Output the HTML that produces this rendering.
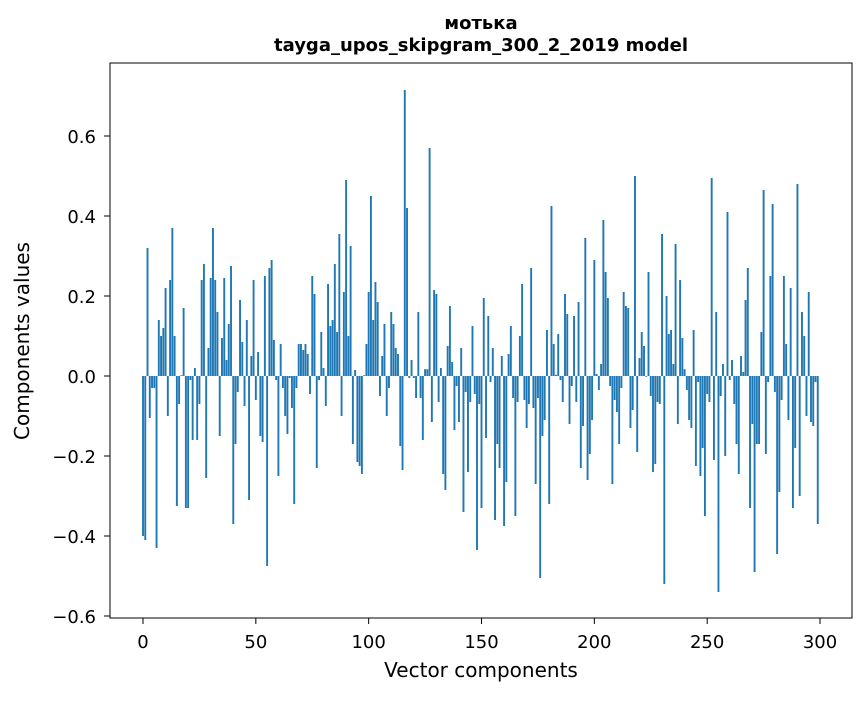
<!DOCTYPE html>
<html><head><meta charset="utf-8"><style>
body{margin:0;background:#fff;}
svg{font-family:"DejaVu Sans","Liberation Sans",sans-serif;}
</style></head><body>
<svg id="chart" width="867" height="696">
<rect width="867" height="696" fill="#fff"/>
<text x="481" y="29" text-anchor="middle" font-size="18" font-weight="bold">мотька</text>
<text x="481" y="51" text-anchor="middle" font-size="18" font-weight="bold">tayga_upos_skipgram_300_2_2019 model</text>
<g id="bars"></g>
<g id="xticks"></g>
<g id="yticks"></g>
<rect x="110" y="63" width="742" height="555" fill="none" stroke="#000" stroke-width="1"/>
<text x="481" y="677" text-anchor="middle" font-size="20">Vector components</text>
<text transform="translate(29,341) rotate(-90)" text-anchor="middle" font-size="20">Components values</text>
</svg>
<script>
const values = [
-0.40,-0.41,0.32,-0.105,-0.03,-0.03,-0.43,0.14,0.10,0.12,0.22,-0.10,0.24,0.37,0.10,-0.325,-0.07,0.002,0.17,-0.33,
-0.33,-0.01,-0.16,0.02,-0.16,-0.07,0.24,0.28,-0.255,0.07,0.245,0.37,0.24,0.16,-0.15,0.095,0.245,0.04,0.13,0.275,
-0.37,-0.17,-0.04,0.19,0.085,-0.075,0.14,-0.31,0.05,0.24,-0.06,0.06,-0.15,-0.165,0.25,-0.475,0.27,0.29,0.09,-0.01,
-0.25,0.08,-0.03,-0.10,-0.145,-0.005,-0.08,-0.32,-0.03,0.08,0.08,0.065,0.08,0.055,-0.045,0.25,0.205,-0.23,-0.01,0.11,
0.02,-0.075,0.23,0.125,0.14,0.28,0.11,0.355,-0.10,0.21,0.49,0.10,0.325,-0.17,0.015,-0.215,-0.225,-0.245,0.002,0.08,
0.21,0.45,0.14,0.235,0.185,-0.05,0.05,0.13,-0.10,-0.03,0.16,0.13,0.07,0.055,-0.175,-0.235,0.715,0.42,-0.005,0.04,
-0.005,-0.055,0.16,-0.055,-0.16,0.017,0.017,0.57,-0.115,0.215,0.205,-0.065,0.02,-0.245,-0.285,0.075,0.175,0.035,-0.135,-0.025,
-0.115,0.07,-0.34,-0.04,-0.24,-0.065,0.125,-0.045,-0.435,-0.07,-0.33,0.195,-0.155,0.15,-0.015,0.07,-0.36,-0.17,-0.23,0.05,
-0.375,-0.265,0.055,0.125,-0.055,-0.35,-0.065,0.10,0.23,-0.06,-0.13,-0.07,0.27,-0.08,-0.27,-0.055,-0.505,-0.15,-0.11,0.115,
-0.32,0.425,0.08,0.003,0.105,-0.01,-0.065,0.205,0.155,-0.12,-0.025,0.15,-0.065,0.185,-0.23,-0.125,0.345,-0.26,-0.195,-0.11,
0.29,0.005,-0.035,0.03,0.39,0.26,0.195,-0.025,-0.27,-0.06,-0.09,-0.17,-0.03,0.21,0.175,0.17,-0.13,-0.085,0.50,-0.19,
0.045,0.11,0.075,-0.002,0.26,-0.05,-0.24,-0.22,-0.065,-0.07,0.355,-0.52,0.20,0.105,0.115,0.03,0.33,-0.12,0.24,0.095,
0.017,-0.035,-0.11,-0.13,0.115,-0.225,-0.015,-0.25,-0.18,-0.35,-0.045,-0.065,0.495,-0.21,0.16,-0.54,-0.05,0.03,-0.20,0.41,
-0.01,0.04,-0.07,-0.17,-0.245,0.05,0.01,0.19,0.27,-0.33,-0.12,-0.49,-0.17,-0.17,0.11,0.465,-0.195,-0.015,0.25,0.43,
-0.04,-0.445,-0.29,-0.06,0.25,0.08,-0.11,0.22,-0.33,-0.18,0.48,-0.30,0.16,0.10,-0.10,0.21,-0.115,-0.125,-0.015,-0.37
];
const xTickValues = [0,50,100,150,200,250,300];
const yTickValues = [-0.6,-0.4,-0.2,0.0,0.2,0.4,0.6];
const yTickLabels = ["\u22120.6","\u22120.4","\u22120.2","0.0","0.2","0.4","0.6"];

const NS = "http://www.w3.org/2000/svg";
function xScale(i){ return 143 + 2.2567 * i; }
function yScale(v){ return 376 - 400 * v; }

const barsG = document.getElementById('bars');
values.forEach(function(v, i){
  const r = document.createElementNS(NS, 'rect');
  const y0 = yScale(0), y1 = yScale(v);
  r.setAttribute('x', xScale(i) - 0.95);
  r.setAttribute('width', 1.9);
  r.setAttribute('y', Math.min(y0, y1));
  r.setAttribute('height', Math.max(Math.abs(y1 - y0), 0.3));
  r.setAttribute('fill', '#1f77b4');
  
  
  barsG.appendChild(r);
});

const xg = document.getElementById('xticks');
xTickValues.forEach(function(t){
  const x = xScale(t);
  const l = document.createElementNS(NS, 'line');
  l.setAttribute('x1', x); l.setAttribute('x2', x);
  l.setAttribute('y1', 618); l.setAttribute('y2', 624);
  l.setAttribute('stroke', '#000');
  
  
  xg.appendChild(l);
  const tx = document.createElementNS(NS, 'text');
  tx.setAttribute('x', x); tx.setAttribute('y', 648);
  tx.setAttribute('text-anchor', 'middle');
  tx.setAttribute('font-size', '18');
  tx.textContent = String(t);
  
  
  xg.appendChild(tx);
});

const yg = document.getElementById('yticks');
yTickValues.forEach(function(t, k){
  const y = yScale(t);
  const l = document.createElementNS(NS, 'line');
  l.setAttribute('x1', 104); l.setAttribute('x2', 110);
  l.setAttribute('y1', y); l.setAttribute('y2', y);
  l.setAttribute('stroke', '#000');
  
  
  yg.appendChild(l);
  const tx = document.createElementNS(NS, 'text');
  tx.setAttribute('x', 96); tx.setAttribute('y', y + 7);
  tx.setAttribute('text-anchor', 'end');
  tx.setAttribute('font-size', '18');
  tx.textContent = yTickLabels[k];
  
  
  yg.appendChild(tx);
});
</script>
</body></html>
